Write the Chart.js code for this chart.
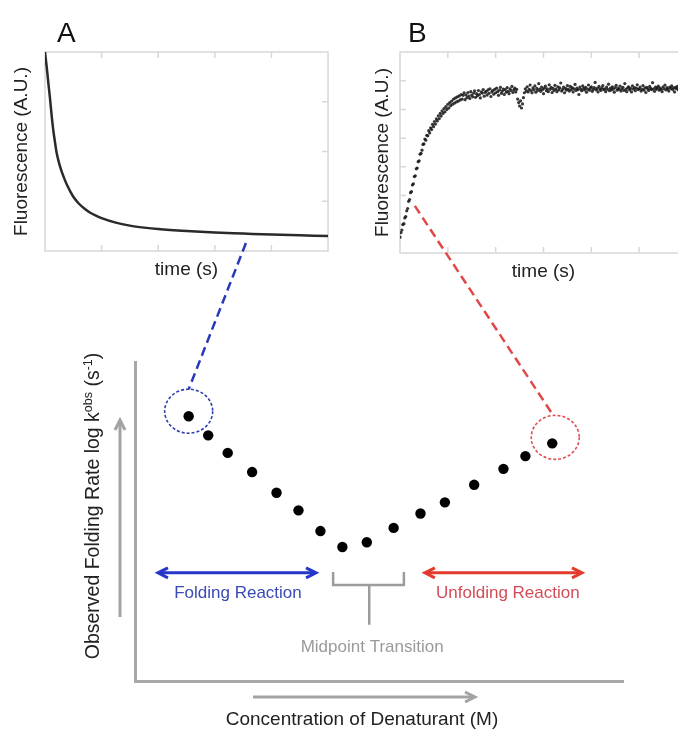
<!DOCTYPE html>
<html>
<head>
<meta charset="utf-8">
<script src="https://cdn.jsdelivr.net/npm/chart.js@4.4.1/dist/chart.umd.min.js"></script>
<style>
  html, body { margin: 0; padding: 0; background: #fff; overflow: hidden; }
  body { width: 678px; height: 732px; position: relative; }
  canvas { position: absolute; top: 0; }
  #chartA { left: 0; }
  #chartB { left: 340px; }
  #chartC { left: 0; pointer-events: none; }
</style>
</head>
<body>
<canvas id="chartA" width="340" height="290"></canvas>
<canvas id="chartB" width="360" height="290"></canvas>
<canvas id="chartC" width="678" height="732"></canvas>
<script>
const FONT = "'Liberation Sans', Arial, Helvetica, sans-serif";

// Panel A - folding trace (fluorescence decay)
const timeA = [0, 0.03, 0.06, 0.1, 0.14, 0.18, 0.23, 0.29, 0.35, 0.41, 0.5, 0.6, 0.7, 0.8, 0.9, 1.0,
  1.2, 1.4, 1.6, 1.8, 2.0, 2.5, 3.0, 3.5, 4.0, 5.0, 6.0, 7.0, 8.0, 9.0, 10.0];
const fluorA = [4.0, 3.85, 3.7, 3.48, 3.26, 3.05, 2.75, 2.44, 2.2, 1.98, 1.76, 1.58, 1.43, 1.3, 1.19, 1.09,
  0.95, 0.85, 0.77, 0.71, 0.66, 0.57, 0.51, 0.47, 0.44, 0.40, 0.37, 0.35, 0.33, 0.315, 0.30];
const ticksAx = [2, 4, 6, 8];
const ticksAy = [1, 2, 3];

// Panel B - unfolding trace (raw points)
const timeB = [
  0, 2, 4, 6, 8, 10, 12, 14, 16, 18,
  20, 22, 24, 26, 28, 30, 32, 34, 36, 38,
  40, 42, 44, 46, 48, 50, 52, 54, 56, 58,
  60, 62, 64, 66, 68, 70, 72, 74, 76, 78,
  80, 82, 84, 86, 88, 90, 92, 94, 96, 98,
  100, 102, 104, 106, 108, 110, 112, 114, 116, 118,
  120, 122, 124, 126, 128, 130, 132, 134, 136, 138,
  140, 142, 144, 146, 148, 150, 152, 154, 156, 158,
  160, 162, 164, 166, 168, 170, 172, 174, 176, 178,
  180, 182, 184, 186, 188, 190, 192, 194, 196, 198,
  200, 202, 204, 206, 208, 210, 212, 214, 216, 218,
  220, 222, 224, 226, 228, 230, 232, 234, 236, 238,
  240, 242, 244, 246, 248, 250, 252, 254, 256, 258,
  260, 262, 264, 266, 268, 270, 272, 274, 276, 278,
  280, 282, 284, 286, 288, 290, 292, 294, 296, 298,
  300, 302, 304, 306, 308, 310, 312, 314, 316, 318,
  320, 322, 324, 326, 328, 330, 332, 334, 336, 338,
  340, 342, 344, 346, 348, 350, 352, 354, 356, 358,
  360, 362, 364, 366, 368, 370, 372, 374, 376, 378,
  380, 382, 384, 386, 388, 390, 392, 394, 396, 398,
  400, 402, 404, 406, 408, 410, 412, 414, 416, 418,
  420, 422, 424, 426, 428, 430, 432, 434, 436, 438,
  440, 442, 444, 446, 448, 450, 452, 454, 456, 458,
  460, 462, 464, 466, 468, 470, 472, 474, 476, 478,
  480, 482, 484, 486, 488, 490, 492, 494, 496, 498,
  500, 502, 504, 506, 508, 510, 512, 514, 516, 518,
  520, 522, 524, 526, 528, 530, 532, 534, 536, 538,
  540, 542, 544, 546, 548, 550, 552, 554, 556, 558,
  560, 562, 564, 566, 568, 570, 572, 574, 576, 578,
  580, 582, 584, 586, 588, 590
];
const fluorB = [
  0.55, 0.71, 0.80, 0.99, 1.02, 1.22, 1.27, 1.47, 1.55, 1.80,
  1.86, 2.10, 2.14, 2.37, 2.41, 2.66, 2.69, 2.93, 2.96, 3.18,
  3.21, 3.44, 3.47, 3.58, 3.78, 3.80, 3.97, 3.93, 4.10, 4.08,
  4.26, 4.18, 4.36, 4.30, 4.48, 4.40, 4.58, 4.49, 4.67, 4.60,
  4.78, 4.68, 4.86, 4.77, 4.95, 4.86, 5.03, 4.92, 5.10, 5.00,
  5.18, 5.05, 5.24, 5.13, 5.29, 5.18, 5.36, 5.22, 5.40, 5.26,
  5.44, 5.29, 5.47, 5.33, 5.52, 5.36, 5.49, 5.58, 5.34, 5.51,
  5.41, 5.59, 5.46, 5.38, 5.62, 5.50, 5.44, 5.57, 5.65, 5.42,
  5.55, 5.48, 5.66, 5.52, 5.40, 5.61, 5.57, 5.69, 5.46, 5.59,
  5.63, 5.50, 5.68, 5.56, 5.72, 5.45, 5.61, 5.66, 5.53, 5.70,
  5.58, 5.74, 5.62, 5.49, 5.67, 5.77, 5.56, 5.64, 5.71, 5.52,
  5.69, 5.60, 5.76, 5.63, 5.55, 5.72, 5.66, 5.80, 5.59, 5.68,
  5.74, 5.61, 5.70, 5.36, 5.24, 5.12, 5.30, 5.05, 5.19, 5.41,
  5.58, 5.72, 5.64, 5.79, 5.61, 5.70, 5.85, 5.66, 5.58, 5.75,
  5.68, 5.82, 5.60, 5.73, 5.66, 5.90, 5.71, 5.63, 5.78, 5.69,
  5.55, 5.74, 5.81, 5.65, 5.72, 5.62, 5.86, 5.70, 5.77, 5.59,
  5.73, 5.66, 5.84, 5.71, 5.62, 5.79, 5.68, 5.75, 5.92, 5.64,
  5.70, 5.78, 5.58, 5.73, 5.67, 5.83, 5.71, 5.64, 5.80, 5.69,
  5.76, 5.61, 5.72, 5.87, 5.66, 5.74, 5.69, 5.52, 5.78, 5.70,
  5.65, 5.82, 5.73, 5.68, 5.77, 5.60, 5.71, 5.85, 5.67, 5.74,
  5.79, 5.63, 5.70, 5.76, 5.94, 5.68, 5.73, 5.61, 5.80, 5.71,
  5.66, 5.75, 5.83, 5.69, 5.72, 5.62, 5.78, 5.70, 5.88, 5.65,
  5.74, 5.68, 5.79, 5.71, 5.60, 5.76, 5.84, 5.67, 5.73, 5.70,
  5.81, 5.64, 5.72, 5.77, 5.66, 5.90, 5.70, 5.62, 5.75, 5.79,
  5.68, 5.73, 5.61, 5.82, 5.71, 5.76, 5.65, 5.74, 5.86, 5.69,
  5.72, 5.78, 5.64, 5.70, 5.83, 5.67, 5.75, 5.59, 5.77, 5.71,
  5.66, 5.80, 5.73, 5.69, 5.93, 5.72, 5.63, 5.78, 5.70, 5.75,
  5.81, 5.67, 5.74, 5.70, 5.62, 5.79, 5.72, 5.85, 5.68, 5.76,
  5.71, 5.64, 5.78, 5.73, 5.82, 5.69, 5.75, 5.61, 5.77, 5.72,
  5.80, 5.68, 5.74, 5.70, 5.83, 5.71
];
const ticksBx = [100, 200, 300, 400, 500];
const ticksBy = [1, 2, 3, 4, 5, 6];

// Chevron plot
const denaturant = [1.1, 1.5, 1.9, 2.4, 2.9, 3.35, 3.8, 4.25, 4.75, 5.3, 5.85, 6.35, 6.95, 7.55, 8.0, 8.55];
const logKobs = [8.3, 7.7, 7.15, 6.55, 5.9, 5.35, 4.7, 4.2, 4.35, 4.8, 5.25, 5.6, 6.15, 6.65, 7.05, 7.45];

// box + inward ticks + panel texts for the two kinetic traces
const framePlugin = {
  id: 'frame',
  beforeDatasetsDraw(chart, args, o) {
    const {ctx, chartArea: a, scales: {x, y}} = chart;
    ctx.save();
    ctx.strokeStyle = '#d8d8d8';
    ctx.lineWidth = 1.5;
    ctx.strokeRect(a.left, a.top, a.right - a.left, a.bottom - a.top);
    ctx.beginPath();
    o.xTicks.forEach(v => {
      const px = x.getPixelForValue(v);
      ctx.moveTo(px, a.top); ctx.lineTo(px, a.top + 6);
      ctx.moveTo(px, a.bottom); ctx.lineTo(px, a.bottom - 6);
    });
    o.yTicks.forEach(v => {
      const py = y.getPixelForValue(v);
      const edge = o.ySide === 'right' ? a.right : a.left;
      const d = o.ySide === 'right' ? -6 : 6;
      ctx.moveTo(edge, py); ctx.lineTo(edge + d, py);
    });
    ctx.stroke();
    ctx.restore();
  },
  afterDraw(chart, args, o) {
    const {ctx, chartArea: a} = chart;
    ctx.save();
    ctx.fillStyle = '#111';
    ctx.font = '28px ' + FONT;
    ctx.textAlign = 'left';
    ctx.textBaseline = 'alphabetic';
    ctx.fillText(o.letter, a.left + o.letterDx, a.top - 10);
    ctx.fillStyle = '#222';
    ctx.font = '19px ' + FONT;
    ctx.textAlign = 'center';
    ctx.textBaseline = 'middle';
    ctx.fillText('time (s)', (a.left + a.right) / 2, a.bottom + 19);
    ctx.translate(a.left - o.yLabelDx, (a.top + a.bottom) / 2);
    ctx.rotate(-Math.PI / 2);
    ctx.fillText('Fluorescence (A.U.)', 0, 0);
    ctx.restore();
  }
};

const chartA = new Chart(document.getElementById('chartA'), {
  type: 'line',
  data: {
    datasets: [{
      data: timeA.map((t, i) => ({x: t, y: fluorA[i]})),
      borderColor: '#2a2a2a',
      borderWidth: 2.5,
      pointRadius: 0,
      cubicInterpolationMode: 'monotone',
      fill: false
    }]
  },
  options: {
    responsive: false,
    animation: false,
    devicePixelRatio: 1,
    layout: {padding: {left: 45, top: 52, right: 12, bottom: 39}},
    plugins: {
      legend: {display: false},
      tooltip: {enabled: false},
      frame: {xTicks: ticksAx, yTicks: ticksAy, ySide: 'right', letter: 'A', letterDx: 12, yLabelDx: 23}
    },
    scales: {
      x: {type: 'linear', display: false, min: 0, max: 10},
      y: {display: false, min: 0, max: 4}
    }
  },
  plugins: [framePlugin]
});

const chartB = new Chart(document.getElementById('chartB'), {
  type: 'scatter',
  data: {
    datasets: [{
      data: timeB.map((t, i) => ({x: t, y: fluorB[i]})),
      backgroundColor: 'rgba(20,20,20,0.85)',
      borderWidth: 0,
      pointRadius: 1.6
    }]
  },
  options: {
    responsive: false,
    animation: false,
    devicePixelRatio: 1,
    layout: {padding: {left: 60, top: 52, right: 13, bottom: 37}},
    plugins: {
      legend: {display: false},
      tooltip: {enabled: false},
      frame: {xTicks: ticksBx, yTicks: ticksBy, ySide: 'left', letter: 'B', letterDx: 8, yLabelDx: 17}
    },
    scales: {
      x: {type: 'linear', display: false, min: 0, max: 600},
      y: {display: false, min: 0, max: 7}
    }
  },
  plugins: [framePlugin]
});

function head(ctx, x, y, dir, len, half) {
  const c = Math.cos(dir), s = Math.sin(dir);
  ctx.beginPath();
  ctx.moveTo(x - len * c + half * s, y - len * s - half * c);
  ctx.lineTo(x, y);
  ctx.lineTo(x - len * c - half * s, y - len * s + half * c);
  ctx.stroke();
}

function doubleArrow(ctx, x1, x2, y, color) {
  ctx.strokeStyle = color;
  ctx.lineWidth = 3;
  ctx.setLineDash([]);
  ctx.beginPath();
  ctx.moveTo(x1 + 2, y); ctx.lineTo(x2 - 2, y);
  ctx.stroke();
  head(ctx, x1, y, Math.PI, 10, 5);
  head(ctx, x2, y, 0, 10, 5);
}

const chevronPlugin = {
  id: 'chevron',
  afterDraw(chart) {
    const {ctx, chartArea: a, scales: {x, y}} = chart;
    const X = v => x.getPixelForValue(v);
    const Y = v => y.getPixelForValue(v);
    const last = denaturant.length - 1;
    ctx.save();
    ctx.lineJoin = 'miter';

    // circles around the end points
    const bc = {x: X(denaturant[0]), y: Y(logKobs[0]) - 5};
    const rc = {x: X(denaturant[last]) + 3, y: Y(logKobs[last]) - 6};
    ctx.lineWidth = 1.6;
    ctx.setLineDash([3, 2]);
    ctx.strokeStyle = '#2f3fb0';
    ctx.beginPath(); ctx.ellipse(bc.x, bc.y, 24, 22, 0, 0, Math.PI * 2); ctx.stroke();
    ctx.strokeStyle = '#e05050';
    ctx.beginPath(); ctx.ellipse(rc.x, rc.y, 24, 22, 0, 0, Math.PI * 2); ctx.stroke();

    // dashed connectors up to the traces
    const aStart = {x: chartA.scales.x.getPixelForValue(7.1), y: chartA.scales.y.getPixelForValue(0.16)};
    const bStart = {x: 340 + chartB.scales.x.getPixelForValue(31), y: chartB.scales.y.getPixelForValue(1.64)};
    ctx.lineWidth = 2.5;
    ctx.setLineDash([9, 5]);
    ctx.strokeStyle = '#2838b8';
    ctx.beginPath(); ctx.moveTo(aStart.x, aStart.y); ctx.lineTo(bc.x, bc.y - 22); ctx.stroke();
    ctx.strokeStyle = '#e04848';
    ctx.beginPath(); ctx.moveTo(bStart.x, bStart.y); ctx.lineTo(rc.x - 2, rc.y - 22); ctx.stroke();
    ctx.setLineDash([]);

    // folding / unfolding arrows and labels
    doubleArrow(ctx, X(0.47), X(3.71), Y(3.39), '#2536c8');
    doubleArrow(ctx, X(5.94), X(9.16), Y(3.39), '#e23a2e');
    ctx.font = '17px ' + FONT;
    ctx.textAlign = 'center';
    ctx.textBaseline = 'middle';
    ctx.fillStyle = '#3a4ab4';
    ctx.fillText('Folding Reaction', X(2.11), Y(2.76));
    ctx.fillStyle = '#d24c58';
    ctx.fillText('Unfolding Reaction', X(7.64), Y(2.76));

    // midpoint bracket
    ctx.strokeStyle = '#9c9c9c';
    ctx.lineWidth = 2.5;
    ctx.beginPath();
    ctx.moveTo(X(4.06), Y(3.42)); ctx.lineTo(X(4.06), Y(3.01));
    ctx.lineTo(X(5.51), Y(3.01)); ctx.lineTo(X(5.51), Y(3.42));
    ctx.moveTo(X(4.80), Y(3.01)); ctx.lineTo(X(4.80), Y(1.76));
    ctx.stroke();
    ctx.fillStyle = '#9a9a9a';
    ctx.fillText('Midpoint Transition', X(4.86), Y(1.07));

    // grey direction arrows beside the axes
    ctx.strokeStyle = '#a3a3a3';
    ctx.lineWidth = 3;
    const ux = a.left - 15;
    ctx.beginPath(); ctx.moveTo(ux, a.bottom - 64); ctx.lineTo(ux, a.top + 60); ctx.stroke();
    head(ctx, ux, a.top + 58, -Math.PI / 2, 10, 5);
    const ry = a.bottom + 16;
    ctx.beginPath(); ctx.moveTo(a.left + 118, ry); ctx.lineTo(a.left + 338, ry); ctx.stroke();
    head(ctx, a.left + 340, ry, 0, 10, 5);

    // axis titles
    ctx.fillStyle = '#222';
    ctx.font = '19px ' + FONT;
    ctx.fillText('Concentration of Denaturant (M)', a.left + 227, a.bottom + 39);

    const parts = [
      {t: 'Observed Folding Rate log k', sup: false},
      {t: 'obs', sup: true},
      {t: ' (s', sup: false},
      {t: '-1', sup: true},
      {t: ')', sup: false}
    ];
    ctx.save();
    ctx.translate(a.left - 42.5, 506);
    ctx.rotate(-Math.PI / 2);
    ctx.textAlign = 'left';
    ctx.textBaseline = 'alphabetic';
    let total = 0;
    parts.forEach(p => {
      ctx.font = (p.sup ? '12.5px ' : '19.5px ') + FONT;
      p.w = ctx.measureText(p.t).width;
      total += p.w;
    });
    let px = -total / 2;
    parts.forEach(p => {
      ctx.font = (p.sup ? '12.5px ' : '19.5px ') + FONT;
      ctx.fillText(p.t, px, p.sup ? -1 : 6.5);
      px += p.w;
    });
    ctx.restore();

    ctx.restore();
  }
};

new Chart(document.getElementById('chartC'), {
  type: 'scatter',
  data: {
    datasets: [{
      data: denaturant.map((d, i) => ({x: d, y: logKobs[i]})),
      backgroundColor: '#000',
      borderWidth: 0,
      pointRadius: 5.2
    }]
  },
  options: {
    responsive: false,
    animation: false,
    devicePixelRatio: 1,
    layout: {padding: {left: 135, top: 362, right: 55, bottom: 51}},
    plugins: {legend: {display: false}, tooltip: {enabled: false}},
    scales: {
      x: {
        type: 'linear', min: 0, max: 10,
        ticks: {display: false},
        grid: {drawOnChartArea: false, drawTicks: false},
        border: {display: true, color: '#a8a8a8', width: 3}
      },
      y: {
        min: 0, max: 10,
        ticks: {display: false},
        grid: {drawOnChartArea: false, drawTicks: false},
        border: {display: true, color: '#a8a8a8', width: 3}
      }
    }
  },
  plugins: [chevronPlugin]
});
</script>
</body>
</html>
